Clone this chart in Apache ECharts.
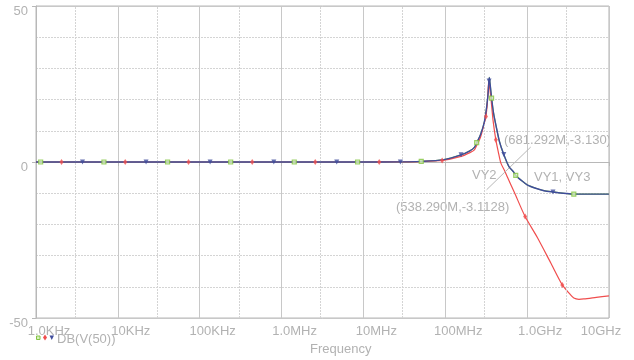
<!DOCTYPE html>
<html>
<head>
<meta charset="utf-8">
<script src="https://cdn.jsdelivr.net/npm/echarts@6/dist/echarts.min.js"></script>
<style>
html,body{margin:0;padding:0;background:#fff;}
#chart{width:634px;height:360px;}
</style>
</head>
<body>
<div id="chart"></div>
<script>
// ---- data ----
const freqTickLabels = ['1.0KHz', '10KHz', '100KHz', '1.0MHz', '10MHz', '100MHz', '1.0GHz', '10GHz'];
const yTickValues = [-50, 0, 50];
const minorGridFreqs = [3e3, 3e4, 3e5, 3e6, 3e7, 3e8, 3e9];

// VY1 and VY3 (coincident traces)
const vy13Freq = [1e3, 1e4, 1e5, 1e6, 1e7, 3e7, 5e7, 9.3e7, 1.56e8, 2.0e8, 2.27e8, 2.44e8, 2.7e8, 3.0e8, 3.2e8, 3.35e8, 3.45e8, 3.55e8, 3.68e8, 3.9e8, 4.15e8, 4.6e8, 5.19e8, 6.0e8, 6.81e8, 7.26e8, 8.5e8, 1.0e9, 1.3e9, 1.61e9, 2.07e9, 3.0e9, 3.72e9, 1e10];
const vy13Db   = [0, 0, 0, 0, 0, 0.05, 0.2, 0.7, 2.3, 3.6, 4.7, 6.3, 8.8, 12.8, 17.5, 22.5, 27.1, 24.5, 20.5, 15.5, 11.9, 6.5, 2.4, -1.5, -3.13, -4.3, -5.9, -7.3, -8.5, -9.2, -9.6, -10.1, -10.3, -10.3];

// VY2
const vy2Freq = [1e3, 1e4, 1e5, 1e6, 1e7, 3e7, 5e7, 9.16e7, 1.56e8, 2.0e8, 2.27e8, 2.44e8, 2.7e8, 3.0e8, 3.14e8, 3.28e8, 3.4e8, 3.5e8, 3.61e8, 3.85e8, 4.15e8, 4.45e8, 4.78e8, 5.38e8, 5.76e8, 7.0e8, 9.46e8, 1.334e9, 1.94e9, 2.69e9, 3.3e9, 3.72e9, 4.3e9, 4.93e9, 7.0e9, 1e10];
const vy2Db   = [0, 0, 0, 0, 0, 0.05, 0.15, 0.5, 1.8, 3.0, 3.9, 5.5, 8.0, 12.5, 14.6, 19.5, 26.1, 23.5, 20.5, 13.0, 7.1, 3.2, -0.35, -3.11, -4.9, -9.8, -17.5, -24.2, -32.3, -39.4, -42.2, -43.6, -44.0, -43.9, -43.4, -42.9];

// trace markers
const vy1MarkFreq = [1.14e3, 6.76e3, 4.05e4, 2.39e5, 1.43e6, 8.49e6, 5.09e7, 2.42e8, 3.68e8, 7.26e8, 3.72e9];
const vy1MarkDb   = [0, 0, 0, 0, 0, 0, 0.2, 6.2, 20.5, -4.3, -10.3];
const vy2MarkFreq = [2.05e3, 1.23e4, 7.3e4, 4.38e5, 2.58e6, 1.56e7, 9.16e7, 3.14e8, 4.15e8, 9.46e8, 2.69e9];
const vy2MarkDb   = [0, 0, 0, 0, 0, 0, 0.5, 14.6, 7.1, -17.5, -39.4];
const vy3MarkFreq = [3.70e3, 2.21e4, 1.34e5, 8.04e5, 4.72e6, 2.83e7, 1.56e8, 3.43e8, 5.19e8, 2.07e9];
const vy3MarkDb   = [0, 0, 0, 0, 0, 0, 2.3, 26.0, 2.4, -9.6];

// annotation leader line (data space)
const leaderLine = [[1.106e9, 4.78], [3.2e8, -8.9]];
const annotations = ['(681.292M,-3.130)', 'VY2', 'VY1, VY3', '(538.290M,-3.1128)'];
const legendText = 'DB(V(50))';
const xAxisTitle = 'Frequency';

// ---- chart ----
const GRAY = '#b2b2b2';
const FONT = 'Liberation Sans, Arial, sans-serif';
const zip = (a, b) => a.map((v, i) => [v, b[i]]);

const chart = echarts.init(document.getElementById('chart'), null, {renderer: 'canvas'});

const option = {
  animation: false,
  backgroundColor: '#ffffff',
  grid: {left: 36, right: 22, top: 6, bottom: 42, show: true, borderColor: '#b8b8b8', borderWidth: 1},
  xAxis: {
    type: 'log', logBase: 10, min: 1e3, max: 1e10, splitNumber: 7,
    axisLine: {show: true, lineStyle: {color: '#b8b8b8', width: 1}},
    axisTick: {show: true, length: 4, lineStyle: {color: '#b8b8b8'}},
    splitLine: {show: true, lineStyle: {color: '#c8c8c8', width: 1}},
    axisLabel: {
      color: GRAY, fontSize: 13, fontFamily: FONT, margin: 7, showMinLabel: true, showMaxLabel: true,
      formatter: function (v) {
        const i = Math.round(Math.log10(v)) - 3;
        const t = freqTickLabels[i];
        if (t === undefined) return '';
        if (i === freqTickLabels.length - 1) return '{t|' + t + '}{r| }';
        return '{l| }{t|' + t + '}';
      },
      rich: {
        l: {width: 26, fontSize: 13},
        r: {width: 16, fontSize: 13},
        t: {color: GRAY, fontSize: 13, fontFamily: FONT}
      }
    }
  },
  yAxis: {
    type: 'value', min: yTickValues[0], max: yTickValues[2], interval: 50,
    axisLine: {show: true, lineStyle: {color: '#b8b8b8', width: 1}},
    axisTick: {show: true, length: 4, lineStyle: {color: '#b8b8b8'}},
    splitLine: {show: true, lineStyle: {color: '#c8c8c8', width: 1}},
    minorTick: {show: false, splitNumber: 5},
    minorSplitLine: {show: true, lineStyle: {color: '#d4d4d4', type: [2, 1], width: 1}},
    axisLabel: {
      color: GRAY, fontSize: 13, fontFamily: FONT, margin: 8,
      formatter: function (v) { return '{a|' + v + '}'; },
      rich: {a: {color: GRAY, fontSize: 13, fontFamily: FONT, padding: [11, 0, 0, 0]}}
    }
  },
  series: [
    {
      name: 'minorgrid', type: 'line', data: [], z: 1, silent: true,
      markLine: {
        silent: true, symbol: 'none', label: {show: false}, animation: false,
        lineStyle: {color: '#d4d4d4', type: [2, 1], width: 1},
        data: minorGridFreqs.map(f => ({xAxis: f}))
      }
    },
    {
      name: 'VY1', type: 'line', data: zip(vy13Freq, vy13Db), showSymbol: false, smooth: 0.25,
      lineStyle: {color: '#84c444', width: 1.2}, z: 3
    },
    {
      name: 'VY2', type: 'line', data: zip(vy2Freq, vy2Db), showSymbol: false, smooth: 0.25,
      lineStyle: {color: '#f04e4e', width: 1.2}, z: 4,
      markLine: {
        silent: true, symbol: 'none', label: {show: false}, animation: false,
        lineStyle: {color: '#b8b8b8', type: 'solid', width: 1},
        data: [[{coord: leaderLine[0]}, {coord: leaderLine[1]}]]
      }
    },
    {
      name: 'VY3', type: 'line', data: zip(vy13Freq, vy13Db), showSymbol: false, smooth: 0.25,
      lineStyle: {color: '#3f4c9c', width: 1.4}, z: 5
    },
    {
      name: 'VY1m', type: 'scatter', data: zip(vy1MarkFreq, vy1MarkDb), symbol: 'rect', symbolSize: 4,
      itemStyle: {color: '#d8f0c0', borderColor: '#84c444', borderWidth: 1.2}, z: 6, silent: true
    },
    {
      name: 'VY2m', type: 'scatter', data: zip(vy2MarkFreq, vy2MarkDb), symbol: 'diamond', symbolSize: [4, 6],
      itemStyle: {color: '#f04e4e'}, z: 6, silent: true
    },
    {
      name: 'VY3m', type: 'scatter', data: zip(vy3MarkFreq, vy3MarkDb), symbol: 'triangle', symbolRotate: 180, symbolSize: [5, 5],
      itemStyle: {color: '#3f4c9c'}, z: 7, silent: true
    }
  ],
  graphic: [
    {type: 'text', left: 504, top: 134, silent: true, style: {text: annotations[0], fill: GRAY, font: '13px ' + FONT}},
    {type: 'text', left: 472, top: 169, silent: true, style: {text: annotations[1], fill: GRAY, font: '13px ' + FONT}},
    {type: 'text', left: 534, top: 171, silent: true, style: {text: annotations[2], fill: GRAY, font: '13px ' + FONT}},
    {type: 'text', left: 396, top: 201, silent: true, style: {text: annotations[3], fill: GRAY, font: '13px ' + FONT}},
    {type: 'text', left: 310, top: 343, silent: true, style: {text: xAxisTitle, fill: GRAY, font: '13px ' + FONT}},
    {type: 'rect', silent: true, shape: {x: 36.5, y: 336, width: 3.5, height: 3.5}, style: {fill: '#d8f0c0', stroke: '#84c444', lineWidth: 1}},
    {type: 'polygon', silent: true, shape: {points: [[45, 334.5], [47, 337.5], [45, 340.5], [43, 337.5]]}, style: {fill: '#f04e4e'}},
    {type: 'polygon', silent: true, shape: {points: [[49.5, 335.5], [54, 335.5], [51.75, 340]]}, style: {fill: '#3f4c9c'}},
    {type: 'text', left: 57, top: 333, silent: true, style: {text: legendText, fill: GRAY, font: '13px ' + FONT}}
  ]
};
chart.setOption(option);
</script>
</body>
</html>
